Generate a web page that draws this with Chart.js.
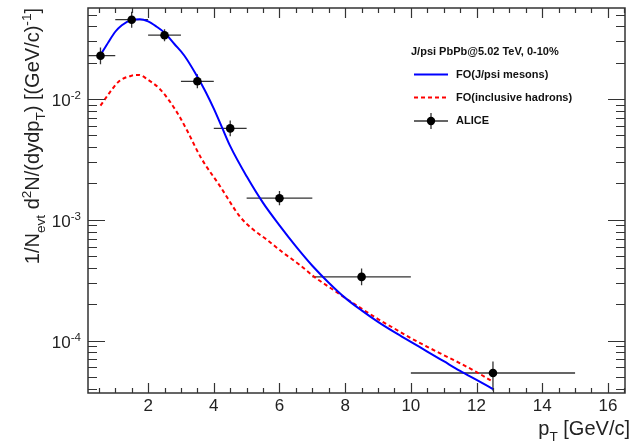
<!DOCTYPE html>
<html>
<head>
<meta charset="utf-8">
<script src="https://cdn.jsdelivr.net/npm/chart.js@4.4.1/dist/chart.umd.min.js"></script>
<style>
html,body{margin:0;padding:0;background:#fff;}
</style>
</head>
<body>
<canvas id="c" width="631" height="445"></canvas>
<script>
// ALICE J/psi, PbPb 5.02 TeV, 0-10%
const aliceX   = [0.55, 1.5, 2.5, 3.5, 4.5, 6.0, 8.5, 12.5];
const aliceXlo = [0, 1, 2, 3, 4, 5, 7, 10];
const aliceXhi = [1, 2, 3, 4, 5, 7, 10, 15];
const aliceY   = [0.0228, 0.0453, 0.0337, 0.0140, 0.00571, 0.00151, 3.37e-4, 5.4e-5];
const aliceYlo = [0.0194, 0.0389, 0.0300, 0.01225, 0.00491, 0.00132, 2.87e-4, 3.85e-5];
const aliceYhi = [0.0267, 0.0527, 0.0378, 0.0160, 0.00664, 0.00173, 3.96e-4, 6.73e-5];

// FO(J/psi mesons)
const jpsiX = [0.55, 0.8, 1.0, 1.2, 1.5, 1.75, 2.0, 2.25, 2.5, 2.8, 3.1, 3.5, 3.75, 4.0, 4.25, 4.5, 5.0, 5.5, 6.0, 6.5, 7.0, 7.5, 8.0, 8.5, 9.0, 9.5, 10, 10.5, 11, 11.5, 12, 12.5];
const jpsiY = [0.0231, 0.0298, 0.0360, 0.0408, 0.0451, 0.0457, 0.0438, 0.0398, 0.0353, 0.0285, 0.0229, 0.0153, 0.01148, 0.00832, 0.00582, 0.00407, 0.00229, 0.00138, 9.0e-4, 6.03e-4, 4.17e-4, 3.02e-4, 2.26e-4, 1.78e-4, 1.43e-4, 1.175e-4, 9.77e-5, 8.13e-5, 6.76e-5, 5.62e-5, 4.73e-5, 3.98e-5];

// FO(inclusive hadrons)
const hadX = [0.55, 0.85, 1.1, 1.5, 1.72, 2.0, 2.33, 2.63, 2.95, 3.2, 3.6, 4.2, 4.8, 5.2, 5.6, 6.1, 6.6, 7.1, 7.5, 8.0, 8.5, 9.0, 9.5, 10.0, 10.5, 11.0, 11.5, 12.0, 12.5];
const hadY = [0.0088, 0.0115, 0.0139, 0.0156, 0.0158, 0.0144, 0.0123, 0.0098, 0.0072, 0.0054, 0.0033, 0.00188, 0.00106, 8.3e-4, 6.9e-4, 5.37e-4, 4.27e-4, 3.31e-4, 2.79e-4, 2.26e-4, 1.84e-4, 1.51e-4, 1.26e-4, 1.05e-4, 8.9e-5, 7.6e-5, 6.5e-5, 5.5e-5, 4.57e-5];

const xTicks = [2, 4, 6, 8, 10, 12, 14, 16];
const yTicks = [1e-2, 1e-3, 1e-4];
const yTickExp = ['-2', '-3', '-4'];

const FRAME = '#333';
const FONT = '"Liberation Sans", Arial, sans-serif';

const pts = (xs, ys) => xs.map((x, i) => ({ x: x, y: ys[i] }));

// draws text pieces with sub/superscripts, returns total width
function richText(ctx, parts, x, y, size, measureOnly) {
  let cx = x;
  parts.forEach(p => {
    const s = p.k === 'n' ? size : size * 0.68;
    const dy = p.k === 'sup' ? -size * 0.42 : (p.k === 'sub' ? size * 0.28 : 0);
    ctx.font = s + 'px ' + FONT;
    if (!measureOnly) ctx.fillText(p.t, cx, y + dy);
    cx += ctx.measureText(p.t).width;
  });
  return cx - x;
}

const rootStyle = {
  id: 'rootStyle',
  beforeDatasetsDraw(chart) {
    const { ctx, chartArea: a, scales: { x, y } } = chart;
    ctx.save();
    ctx.beginPath();
    ctx.rect(a.left, a.top, a.right - a.left, a.bottom - a.top);
    ctx.clip();
    ctx.strokeStyle = '#333';
    ctx.lineWidth = 1.3;
    aliceX.forEach((v, i) => {
      const px = x.getPixelForValue(v);
      const py = y.getPixelForValue(aliceY[i]);
      ctx.beginPath();
      ctx.moveTo(x.getPixelForValue(aliceXlo[i]), py);
      ctx.lineTo(x.getPixelForValue(aliceXhi[i]), py);
      ctx.moveTo(px, y.getPixelForValue(aliceYlo[i]));
      ctx.lineTo(px, y.getPixelForValue(aliceYhi[i]));
      ctx.stroke();
    });
    ctx.restore();
  },
  afterDraw(chart) {
    const { ctx, chartArea: a, scales: { x, y } } = chart;
    ctx.save();
    ctx.strokeStyle = FRAME;
    ctx.lineWidth = 1.5;
    ctx.strokeRect(a.left, a.top, a.right - a.left, a.bottom - a.top);

    // x ticks (bottom and top, inward)
    ctx.lineWidth = 1.2;
    ctx.beginPath();
    for (let v = 0.5; v <= 16.5; v += 0.5) {
      const px = Math.round(x.getPixelForValue(v)) + 0.5;
      const len = v % 2 === 0 ? 10 : 5;
      ctx.moveTo(px, a.bottom); ctx.lineTo(px, a.bottom - len);
      ctx.moveTo(px, a.top); ctx.lineTo(px, a.top + len);
    }
    // y ticks (left and right, inward)
    for (let e = -5; e <= -1; e++) {
      for (let k = 1; k <= 9; k++) {
        const v = k * Math.pow(10, e);
        if (v < y.min || v > y.max) continue;
        const py = Math.round(y.getPixelForValue(v)) + 0.5;
        const len = k === 1 ? 17 : 9;
        ctx.moveTo(a.left, py); ctx.lineTo(a.left + len, py);
        ctx.moveTo(a.right, py); ctx.lineTo(a.right - len, py);
      }
    }
    ctx.stroke();

    // tick labels
    ctx.fillStyle = '#222';
    ctx.textBaseline = 'alphabetic';
    ctx.font = '17px ' + FONT;
    ctx.textAlign = 'center';
    xTicks.forEach(v => ctx.fillText(String(v), x.getPixelForValue(v), 411));
    ctx.textAlign = 'left';
    yTicks.forEach((v, i) => {
      const py = y.getPixelForValue(v);
      const parts = [{ t: '10', k: 'n' }, { t: yTickExp[i], k: 'sup' }];
      const w = richText(ctx, parts, 0, 0, 17, true);
      richText(ctx, parts, 81 - w, py + 7, 17, false);
    });

    // x title
    const xt = [{ t: 'p', k: 'n' }, { t: 'T', k: 'sub' }, { t: ' [GeV/c]', k: 'n' }];
    const xw = richText(ctx, xt, 0, 0, 20, true);
    richText(ctx, xt, 630 - xw, 435, 20, false);

    // y title (rotated)
    const yt = [{ t: '1/N', k: 'n' }, { t: 'evt', k: 'sub' }, { t: ' d', k: 'n' }, { t: '2', k: 'sup' },
      { t: 'N/(dydp', k: 'n' }, { t: 'T', k: 'sub' }, { t: ') [(GeV/c)', k: 'n' }, { t: '-1', k: 'sup' }, { t: ']', k: 'n' }];
    const yw = richText(ctx, yt, 0, 0, 20, true);
    ctx.save();
    ctx.translate(39, 8 + yw);
    ctx.rotate(-Math.PI / 2);
    richText(ctx, yt, 0, 0, 20, false);
    ctx.restore();

    // legend
    ctx.font = 'bold 11px ' + FONT;
    ctx.fillStyle = '#111';
    ctx.textBaseline = 'middle';
    ctx.fillText('J/psi PbPb@5.02 TeV, 0-10%', 411, 52);
    ctx.fillText('FO(J/psi mesons)', 456, 74.5);
    ctx.fillText('FO(inclusive hadrons)', 456, 97.5);
    ctx.fillText('ALICE', 456, 121);
    ctx.lineWidth = 2;
    ctx.strokeStyle = '#0000ff';
    ctx.beginPath(); ctx.moveTo(414, 74.5); ctx.lineTo(448, 74.5); ctx.stroke();
    ctx.strokeStyle = '#ff0000';
    ctx.setLineDash([4, 3]);
    ctx.beginPath(); ctx.moveTo(414, 97.5); ctx.lineTo(448, 97.5); ctx.stroke();
    ctx.setLineDash([]);
    ctx.strokeStyle = '#333';
    ctx.lineWidth = 1.3;
    ctx.beginPath();
    ctx.moveTo(414, 121); ctx.lineTo(448, 121);
    ctx.moveTo(431, 113); ctx.lineTo(431, 129);
    ctx.stroke();
    ctx.fillStyle = '#000';
    ctx.beginPath(); ctx.arc(431, 121, 4.2, 0, Math.PI * 2); ctx.fill();
    ctx.restore();
  }
};

new Chart(document.getElementById('c'), {
  type: 'scatter',
  data: {
    datasets: [
      {
        label: 'ALICE',
        data: pts(aliceX, aliceY),
        pointRadius: 4.3,
        pointBackgroundColor: '#000',
        pointBorderWidth: 0,
        showLine: false,
        order: 0
      },
      {
        label: 'FO(J/psi mesons)',
        data: pts(jpsiX, jpsiY),
        showLine: true,
        borderColor: '#0000ff',
        borderWidth: 2,
        pointRadius: 0,
        cubicInterpolationMode: 'monotone',
        order: 1
      },
      {
        label: 'FO(inclusive hadrons)',
        data: pts(hadX, hadY),
        showLine: true,
        borderColor: '#ff0000',
        borderWidth: 2,
        borderDash: [4, 3],
        pointRadius: 0,
        cubicInterpolationMode: 'monotone',
        order: 2
      }
    ]
  },
  options: {
    responsive: false,
    animation: false,
    devicePixelRatio: 1,
    layout: { padding: { top: 8, right: 6, left: 0, bottom: 0 } },
    plugins: { legend: { display: false }, tooltip: { enabled: false } },
    scales: {
      x: {
        type: 'linear', min: 0.17, max: 16.52,
        ticks: { display: false }, grid: { display: false }, border: { display: false },
        afterFit: s => { s.height = 52; }
      },
      y: {
        type: 'logarithmic', min: 3.69e-5, max: 0.0566,
        ticks: { display: false }, grid: { display: false }, border: { display: false },
        afterFit: s => { s.width = 88; }
      }
    }
  },
  plugins: [rootStyle]
});
</script>
</body>
</html>
